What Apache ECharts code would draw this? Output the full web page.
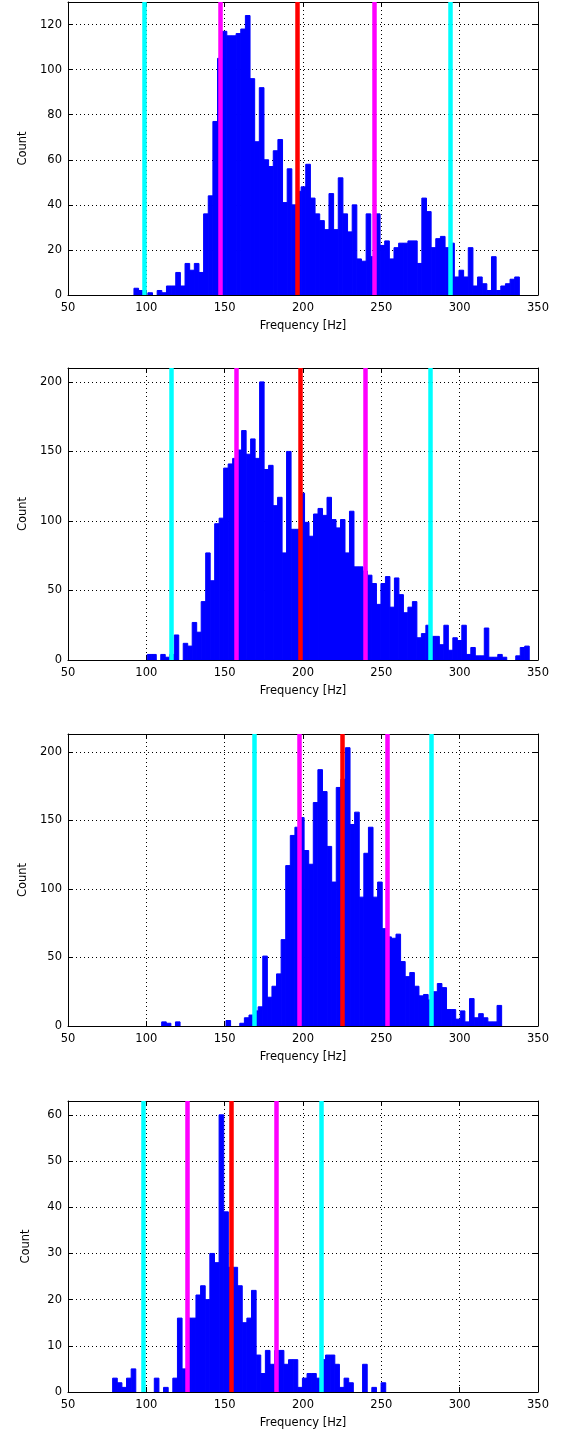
<!DOCTYPE html>
<html>
<head>
<meta charset="utf-8">
<script src="https://cdn.jsdelivr.net/npm/echarts@6/dist/echarts.min.js"></script>
<style>
html, body { margin: 0; padding: 0; background: #fff; }
#main { width: 566px; height: 1437px; }
</style>
</head>
<body>
<div id="main"></div>
<script>
// histogram counts per panel (equal-width bins between binLo and binHi)
var counts1 = [3,2,0,1,0,2,1,4,4,10,4,14,11,14,10,36,44,77,105,117,115,115,116,118,124,96,68,92,60,57,64,69,41,56,40,46,48,58,43,36,33,29,45,29,52,36,28,40,16,15,36,17,36,22,24,16,21,23,23,24,24,14,43,37,21,25,26,21,23,8,11,8,21,4,8,5,2,17,2,4,5,7,8];
var counts2 = [4,4,0,4,2,4,18,0,12,10,27,20,42,77,57,98,102,138,141,145,151,165,148,159,145,200,137,140,111,117,77,150,94,94,120,99,89,105,109,104,117,101,95,101,77,107,67,67,64,61,55,40,55,60,38,59,47,34,38,42,16,19,25,17,17,11,25,7,16,14,25,4,9,3,3,23,2,2,4,2,0,0,3,9,10];
var counts3 = [3,2,0,3,0,0,0,0,0,0,0,0,0,0,4,0,0,2,6,8,11,14,51,21,29,38,63,117,139,145,152,128,118,163,187,171,131,105,174,180,203,147,156,94,126,145,94,105,71,65,64,67,47,36,39,29,22,23,19,25,31,28,12,12,5,11,3,20,6,9,6,3,3,15];
var counts4 = [3,2,1,3,5,0,0,0,0,3,0,1,0,3,16,5,16,16,21,23,20,30,28,60,39,27,27,23,15,16,22,8,4,9,6,9,9,6,7,7,1,3,4,4,3,7,8,8,6,1,3,2,0,0,6,0,1,0,2];

var binLo = [92.1, 100.6, 109.8, 78.5];
var binHi = [338.1, 344.4, 326.8, 252.8];

// mean, mean +- 1 std, mean +- 2 std (Hz)
var lines1 = [98.5, 147.4, 196.6, 245.5, 294.0];
var lines2 = [116.2, 157.4, 198.3, 239.6, 281.1];
var lines3 = [168.9, 197.5, 225.3, 253.8, 281.9];
var lines4 = [97.9, 126.4, 154.4, 182.8, 211.7];
var lineColors = ['#00ffff', '#ff00ff', '#ff0000', '#ff00ff', '#00ffff'];

var yMax = [130, 210, 213, 63];
var yStep = [20, 50, 50, 10];

var allCounts = [counts1, counts2, counts3, counts4];
var allLines = [lines1, lines2, lines3, lines4];
var gridTop = [2, 368, 734, 1101];
var gridHeight = [293, 292, 292, 291];

function make_bins(counts, lo, hi) { //转成 [左边, 右边, 数量]
	var w = (hi - lo) / counts.length;
	var d = [];
	for (var i = 0; i < counts.length; i++) {
		d.push([lo + i * w, lo + (i + 1) * w, counts[i]]);
	}
	return d;
}

function render_bar(params, api) {
	if (api.value(2) <= 0) return null;
	var p0 = api.coord([api.value(0), api.value(2)]);
	var p1 = api.coord([api.value(1), 0]);
	return {
		type: 'rect',
		shape: { x: p0[0], y: p0[1], width: p1[0] - p0[0], height: p1[1] - p0[1] },
		style: { fill: '#0000ff', stroke: '#0000ff', lineWidth: 1 }
	};
}

var myChart = echarts.init(document.getElementById('main'), null, { renderer: 'canvas' });

var grids = [], xAxes = [], yAxes = [], series = [];
var font = 'DejaVu Sans';
var txt = { color: '#000', fontFamily: font, fontSize: 11.5 };
var dotted = { show: true, lineStyle: { color: '#000', width: 1, type: [1, 3] } };

for (var p = 0; p < 4; p++) {
	grids.push({ left: 68, width: 470, top: gridTop[p], height: gridHeight[p] });
	var step = yStep[p];
	// bottom / top x axes
	xAxes.push({
		gridIndex: p, type: 'value', min: 50, max: 350, interval: 50, position: 'bottom',
		name: 'Frequency [Hz]', nameLocation: 'middle', nameGap: 25, nameTextStyle: txt,
		axisLine: { onZero: false, lineStyle: { color: '#000', width: 1 } },
		axisTick: { inside: true, length: 5, lineStyle: { color: '#000' } },
		axisLabel: { color: '#000', fontFamily: font, fontSize: 11.5, margin: 7 },
		splitLine: dotted
	});
	xAxes.push({
		gridIndex: p, type: 'value', min: 50, max: 350, interval: 50, position: 'top',
		axisLine: { onZero: false, lineStyle: { color: '#000', width: 1 } },
		axisTick: { inside: true, length: 5, lineStyle: { color: '#000' } },
		axisLabel: { show: false }, splitLine: { show: false }
	});
	// left / right y axes
	yAxes.push({
		gridIndex: p, type: 'value', min: 0, max: yMax[p], interval: step, position: 'left',
		name: 'Count', nameLocation: 'middle', nameGap: 36, nameTextStyle: txt,
		axisLine: { show: true, onZero: false, lineStyle: { color: '#000', width: 1 } },
		axisTick: { show: true, inside: true, length: 5, lineStyle: { color: '#000' } },
		axisLabel: {
			color: '#000', fontFamily: font, fontSize: 11.5, margin: 6,
			formatter: (function (s) { return function (v) { return v % s === 0 ? v : ''; }; })(step)
		},
		splitLine: dotted
	});
	yAxes.push({
		gridIndex: p, type: 'value', min: 0, max: yMax[p], interval: step, position: 'right',
		axisLine: { show: true, onZero: false, lineStyle: { color: '#000', width: 1 } },
		axisTick: { show: true, inside: true, length: 5, lineStyle: { color: '#000' } },
		axisLabel: { show: false }, splitLine: { show: false }
	});

	var ml = [];
	for (var k = 0; k < allLines[p].length; k++) {
		ml.push({ xAxis: allLines[p][k], lineStyle: { color: lineColors[k] } });
	}
	series.push({
		type: 'custom',
		xAxisIndex: 2 * p, yAxisIndex: 2 * p,
		renderItem: render_bar,
		encode: { x: [0, 1], y: 2 },
		data: make_bins(allCounts[p], binLo[p], binHi[p]),
		clip: true,
		markLine: {
			silent: true, symbol: ['none', 'none'], label: { show: false },
			lineStyle: { width: 4.5, type: 'solid' },
			data: ml
		}
	});
}

myChart.setOption({
	animation: false,
	backgroundColor: '#fff',
	grid: grids,
	xAxis: xAxes,
	yAxis: yAxes,
	series: series
});
</script>
</body>
</html>
